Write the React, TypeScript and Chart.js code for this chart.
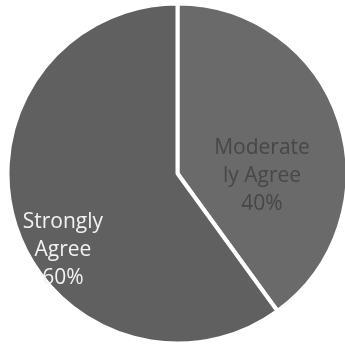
import React, { useEffect, useRef } from "react";
import { Chart, registerables } from "chart.js";

Chart.register(...registerables);

const categories = ["Moderately Agree", "Strongly Agree"];
const values = [40, 60];
const labelLines = [
  ["Moderate", "ly Agree", "40%"],
  ["Strongly", "Agree", "60%"],
];
const sliceColors = ["#6a6a6a", "#606060"];
const labelColors = ["#474747", "#f2f2f2"];
// label centre relative to pie centre, as a fraction of radius
const labelOffsets = [
  [0.497, 0.015],
  [-0.674, 0.45],
];

const labelPlugin = {
  id: "sliceLabels",
  afterDatasetsDraw(chart: any) {
    const ctx = chart.ctx;
    const meta = chart.getDatasetMeta(0);
    ctx.save();
    ctx.font = '21px "Open Sans"';
    ctx.textAlign = "center";
    ctx.textBaseline = "middle";
    const lh = 28;
    meta.data.forEach((arc: any, i: number) => {
      const r = arc.outerRadius;
      const cx = arc.x + labelOffsets[i][0] * r;
      const cy = arc.y + labelOffsets[i][1] * r;
      const lines = labelLines[i];
      ctx.fillStyle = labelColors[i];
      lines.forEach((t, j) => {
        ctx.fillText(t, cx, cy + (j - (lines.length - 1) / 2) * lh);
      });
    });
    ctx.restore();
  },
};

export default function App() {
  const ref = useRef<HTMLCanvasElement>(null);
  useEffect(() => {
    document.body.style.margin = "0";
    document.body.style.overflow = "hidden";
    const chart = new Chart(ref.current!, {
      type: "pie",
      data: {
        labels: categories,
        datasets: [
          {
            data: values,
            backgroundColor: sliceColors,
            borderColor: "#ffffff",
            borderWidth: 4,
          },
        ],
      },
      options: {
        responsive: false,
        animation: false,
        layout: { padding: { top: 1.5, bottom: 1.5, left: 0, right: 0 } },
        plugins: { legend: { display: false }, tooltip: { enabled: false } },
      },
      plugins: [labelPlugin],
    });
    return () => chart.destroy();
  }, []);
  return (
    <div style={{ position: "fixed", left: 0, top: 0, width: 355, height: 347, background: "#fff" }}>
      <canvas ref={ref} width={355} height={347} />
    </div>
  );
}
